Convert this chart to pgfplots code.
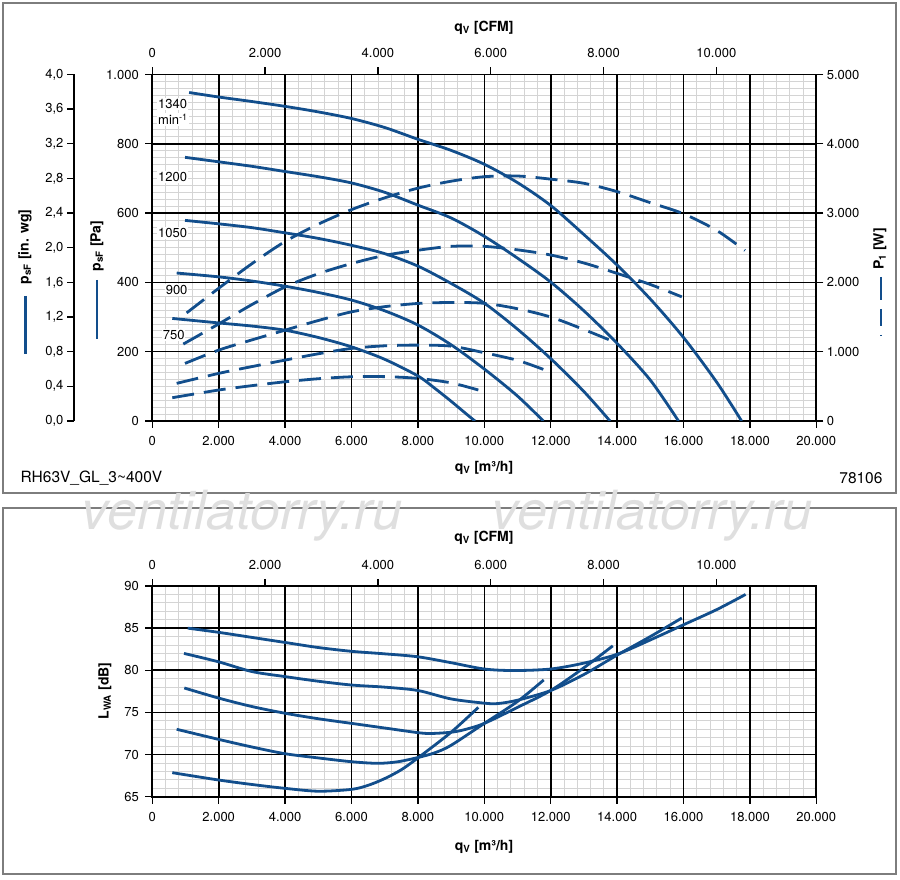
\documentclass[border=0pt]{standalone}
\usepackage{pgfplots}
\pgfplotsset{compat=1.18}
\usepackage{fontspec}
\setmainfont{TeX Gyre Heros}
\definecolor{cblue}{RGB}{18,78,140}
\definecolor{gridminor}{RGB}{212,212,212}
\definecolor{framegray}{RGB}{125,125,125}
\pgfplotsset{
  myax/.style={
    scale only axis, width=664pt,
    tick align=outside, major tick length=7pt, minor tick length=0pt,
    tick style={black, line width=1.4pt},
    axis line style={black, line width=1.7pt},
    tick label style={font=\fontsize{13}{15}\selectfont},
    /pgf/number format/1000 sep={.},
    /pgf/number format/assume math mode=true,
    scaled ticks=false,
  },
  gridax/.style={
    scale only axis, width=664pt, scaled ticks=false,
    xticklabels={}, yticklabels={}, major tick length=0pt,
    grid=major, major grid style={gridminor, line width=0.9pt},
    axis line style={draw=none},
  },
  sc/.style={cblue, line width=2.8pt, smooth},
  dc/.style={cblue, line width=2.8pt, smooth, dash pattern=on 22pt off 10pt},
}
\begin{document}
\begin{tikzpicture}[x=1pt,y=1pt]
\path (0,0) rectangle (900,879);
\draw[framegray, line width=1.2pt] (3,386) rectangle (896,876);
\draw[framegray, line width=1.2pt] (3,5) rectangle (896,371);
\node[text=gray!25, font=\fontsize{54}{54}\selectfont\itshape] at (242,363) {ventilatorry.ru};
\node[text=gray!25, font=\fontsize{54}{54}\selectfont\itshape] at (652,363) {ventilatorry.ru};

% ================= TOP CHART =================
\begin{axis}[gridax, at={(152.3pt,458pt)}, anchor=south west, height=346.5pt,
  xmin=0, xmax=20000, ymin=0, ymax=1000,
  xtick={0,400,...,20000}, ytick={0,20,...,1000}]
\end{axis}

\begin{axis}[myax, at={(152.3pt,458pt)}, anchor=south west, height=346.5pt,
  xmin=0, xmax=20000, ymin=0, ymax=1000,
  xtick={0,2000,...,20000}, ytick={0,200,...,1000},
  grid=major, major grid style={black, line width=1.6pt},
  xtick pos=left, ytick pos=left,
  xticklabel style={yshift=-5pt}, yticklabel style={xshift=-3pt}]
\addplot[sc] coordinates {(1110,948)(2000,935)(3000,922)(4000,908)(5000,892)(6000,873)(7000,847)(8000,813)(9000,781)(10000,741)(11000,688)(12000,622)(13000,538)(14000,450)(15000,352)(16000,241)(17000,112)(17750,0)};
\addplot[sc] coordinates {(985,761)(2000,748)(3000,735)(4000,720)(5000,705)(6000,687)(7000,660)(8000,623)(9000,586)(10000,533)(11000,470)(12000,401)(13000,318)(14000,224)(15000,118)(15850,0)};
\addplot[sc] coordinates {(985,579)(2000,569)(3000,558)(4000,543)(5000,527)(6000,507)(7000,483)(8000,447)(9000,397)(10000,340)(11000,265)(12000,180)(13000,85)(13786,0)};
\addplot[sc] coordinates {(735,427)(2000,416)(3000,404)(4000,389)(5000,371)(6000,349)(7000,318)(8000,277)(9000,220)(10000,150)(11000,72)(11777,0)};
\addplot[sc] coordinates {(602,296)(2000,283)(3000,274)(4000,262)(5000,241)(6000,214)(7000,178)(8000,130)(8500,95)(9000,57)(9500,17)(9720,0)};
\node[fill=white, inner sep=1pt, anchor=west, font=\fontsize{13}{15}\selectfont] at (axis cs:142,915) {1340};
\node[fill=white, inner sep=1pt, anchor=west, font=\fontsize{13}{15}\selectfont] at (axis cs:142,870) {min\textsuperscript{-1}};
\node[fill=white, inner sep=1pt, anchor=west, font=\fontsize{13}{15}\selectfont] at (axis cs:142,704) {1200};
\node[fill=white, inner sep=1pt, anchor=west, font=\fontsize{13}{15}\selectfont] at (axis cs:142,543) {1050};
\node[fill=white, inner sep=1pt, anchor=west, font=\fontsize{13}{15}\selectfont] at (axis cs:370,378) {900};
\node[fill=white, inner sep=1pt, anchor=west, font=\fontsize{13}{15}\selectfont] at (axis cs:280,248) {750};
\end{axis}

\begin{axis}[myax, at={(152.3pt,458pt)}, anchor=south west, height=346.5pt,
  xmin=0, xmax=20000, ymin=0, ymax=5000, ytick={0,1000,...,5000},
  axis y line*=right, hide x axis]
\addplot[dc] coordinates {(1035,1560)(2000,1915)(3000,2270)(4000,2590)(5000,2840)(6000,3050)(7000,3220)(8000,3360)(9000,3460)(10000,3525)(11000,3535)(12000,3490)(13000,3430)(14000,3310)(15000,3150)(16000,2990)(17000,2750)(17850,2460)};
\addplot[dc] coordinates {(934,1110)(2000,1400)(3000,1680)(4000,1935)(5000,2125)(6000,2272)(7000,2390)(8000,2464)(9000,2520)(10000,2520)(11000,2470)(12000,2395)(13000,2280)(14000,2130)(15000,1970)(15950,1791)};
\addplot[dc] coordinates {(985,831)(2000,1023)(3000,1170)(4000,1311)(5000,1450)(6000,1575)(7000,1650)(8000,1696)(9000,1710)(10000,1698)(11000,1620)(12000,1500)(13000,1320)(14000,1124)};
\addplot[dc] coordinates {(735,543)(2000,687)(3000,785)(4000,879)(5000,970)(6000,1047)(7000,1085)(8000,1095)(9000,1080)(10000,985)(11000,875)(11777,745)};
\addplot[dc] coordinates {(602,336)(2000,447)(3000,510)(4000,566)(5000,610)(6000,638)(7000,640)(8000,615)(9000,550)(9820,447)};
\end{axis}

\begin{axis}[myax, at={(152.3pt,458pt)}, anchor=south west, height=346.5pt,
  xmin=0, xmax=11771.6, ymin=0, ymax=1, xtick={0,2000,...,10000},
  axis x line*=top, hide y axis, xticklabel style={yshift=6pt}]
\end{axis}

\begin{axis}[myax, width=20pt, at={(74pt,458pt)}, anchor=south west, height=346.5pt,
  xmin=0, xmax=1, ymin=0, ymax=4,
  ytick={0,0.4,0.8,1.2,1.6,2.0,2.4,2.8,3.2,3.6,4.0},
  yticklabel style={/pgf/number format/.cd, fixed, fixed zerofill, precision=1, use comma},
  axis y line*=left, hide x axis]
\end{axis}

\node[font=\fontsize{14}{16}\selectfont\bfseries] at (484,851) {q\textsubscript{V} [CFM]};
\node[font=\fontsize{14}{16}\selectfont\bfseries] at (484,411) {q\textsubscript{V} [m³/h]};
\node[font=\fontsize{15.5}{17}\selectfont, anchor=west] at (17,401) {RH63V\_GL\_3\textasciitilde400V};
\node[font=\fontsize{15.5}{17}\selectfont, anchor=east] at (886,401) {78106};
\node[font=\fontsize{14}{16}\selectfont\bfseries, rotate=90] at (25,632) {p\textsubscript{sF} [in. wg]};
\draw[cblue, line width=2.8pt] (25.7,583) -- (25.7,525);
\node[font=\fontsize{14}{16}\selectfont\bfseries, rotate=90] at (97,633) {p\textsubscript{sF} [Pa]};
\draw[cblue, line width=2.8pt] (97,599) -- (97,540);
\node[font=\fontsize{14}{16}\selectfont\bfseries, rotate=90] at (880,630) {P\textsubscript{1} [W]};
\draw[cblue, line width=2.8pt, dash pattern=on 23pt off 9pt on 17pt off 9pt on 1.5pt] (881,602) -- (881,542);

% ================= BOTTOM CHART =================
\begin{axis}[gridax, at={(152.3pt,82.3pt)}, anchor=south west, height=210.7pt,
  xmin=0, xmax=20000, ymin=65, ymax=90,
  xtick={0,400,...,20000}, ytick={65,66,...,90}]
\end{axis}

\begin{axis}[myax, at={(152.3pt,82.3pt)}, anchor=south west, height=210.7pt,
  xmin=0, xmax=20000, ymin=65, ymax=90,
  xtick={0,2000,...,20000}, ytick={65,70,...,90},
  grid=major, major grid style={black, line width=1.6pt},
  xtick pos=left, ytick pos=left,
  xticklabel style={yshift=-5pt}, yticklabel style={xshift=-3pt}]
\addplot[sc] coordinates {(1066,85.0)(2000,84.5)(3000,83.9)(4000,83.3)(5000,82.7)(6000,82.25)(7000,81.95)(8000,81.6)(9000,80.9)(10000,80.15)(10900,79.97)(12000,80.15)(13000,80.85)(14000,81.9)(15000,83.6)(16000,85.4)(17000,87.2)(17870,89.0)};
\addplot[sc] coordinates {(955,82.0)(2000,81.0)(3000,79.85)(4000,79.25)(5000,78.7)(6000,78.25)(7000,78.0)(8000,77.6)(9000,76.6)(10000,76.1)(10400,76.05)(11000,76.45)(12000,77.6)(13000,79.5)(14000,81.8)(15000,84.0)(15950,86.2)};
\addplot[sc] coordinates {(964,77.9)(2000,76.7)(3000,75.7)(4000,74.9)(5000,74.25)(6000,73.7)(7000,73.15)(8000,72.6)(8400,72.5)(9000,72.65)(9400,72.95)(10000,73.7)(11000,75.6)(12000,77.6)(13000,80.3)(13870,82.9)};
\addplot[sc] coordinates {(733,73.0)(2000,71.8)(3000,70.9)(4000,70.1)(5000,69.6)(6000,69.15)(6800,68.96)(7400,69.15)(8000,69.65)(8500,70.2)(9000,71.1)(10000,73.7)(11000,76.3)(11790,78.85)};
\addplot[sc] coordinates {(602,67.85)(2000,66.98)(3000,66.45)(4000,65.99)(5000,65.65)(6000,65.87)(6500,66.35)(7000,67.15)(7500,68.2)(8000,69.6)(9000,72.65)(9820,75.6)};
\end{axis}

\begin{axis}[myax, at={(152.3pt,82.3pt)}, anchor=south west, height=210.7pt,
  xmin=0, xmax=11771.6, ymin=0, ymax=1, xtick={0,2000,...,10000},
  axis x line*=top, hide y axis, xticklabel style={yshift=6pt}]
\end{axis}

\node[font=\fontsize{14}{16}\selectfont\bfseries] at (484,341) {q\textsubscript{V} [CFM]};
\node[font=\fontsize{14}{16}\selectfont\bfseries] at (484,32) {q\textsubscript{V} [m³/h]};
\node[font=\fontsize{14}{16}\selectfont\bfseries, rotate=90] at (105,188) {L\textsubscript{WA} [dB]};
\end{tikzpicture}
\end{document}
